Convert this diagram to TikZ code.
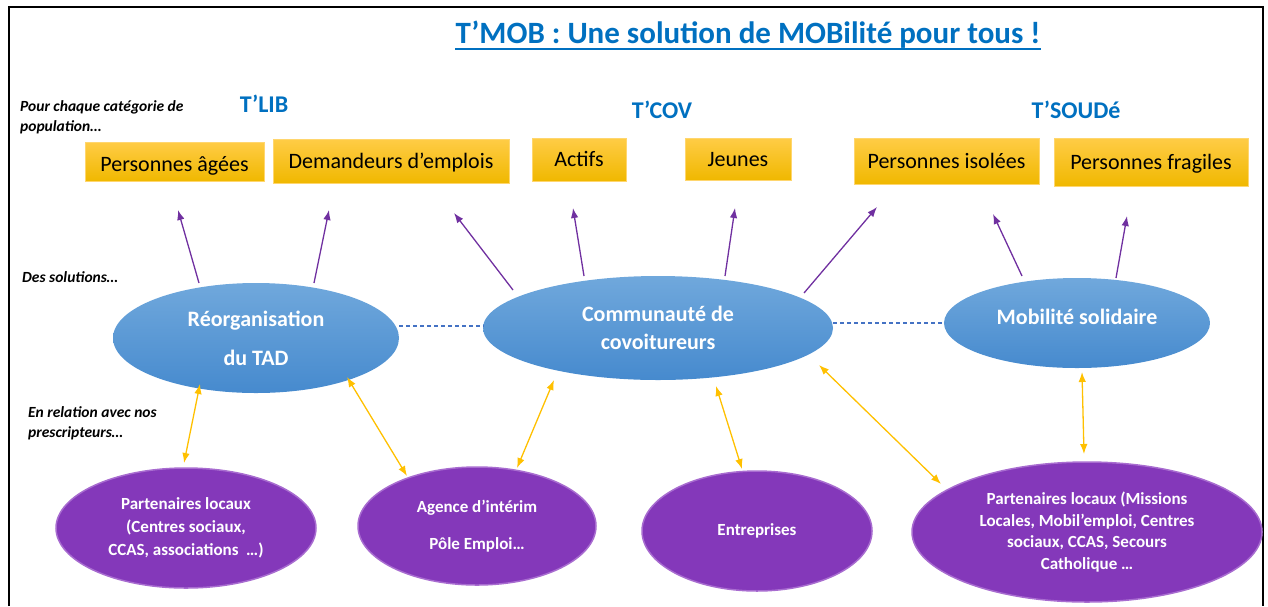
\documentclass[tikz,border=0pt]{standalone}
\usepackage{fontspec}
\setmainfont{Carlito}
\usetikzlibrary{shapes.geometric,arrows.meta}
\definecolor{tblue}{RGB}{0,112,192}
\definecolor{ytop}{RGB}{255,204,70}
\definecolor{ybot}{RGB}{240,184,0}
\definecolor{yedge}{RGB}{255,214,110}
\definecolor{btop}{RGB}{112,168,220}
\definecolor{bbot}{RGB}{70,138,206}
\definecolor{pfill}{RGB}{132,56,186}
\definecolor{pedge}{RGB}{168,108,208}
\definecolor{parrow}{RGB}{112,48,160}
\definecolor{yarrow}{RGB}{255,192,0}
\definecolor{dashblue}{RGB}{68,114,196}
\begin{document}
\begin{tikzpicture}[x=1pt,y=-1pt,
  ybox/.style={rectangle, draw=yedge, line width=0.8pt, top color=ytop, bottom color=ybot,
    inner sep=0pt, font=\fontsize{22}{26}\selectfont, text height=14pt, text depth=0pt},
  sol/.style={ellipse, inner sep=0pt, top color=btop, bottom color=bbot, draw=none,
    text=white, align=center},
  pres/.style={ellipse, inner sep=0pt, fill=pfill, draw=pedge, line width=1.5pt,
    text=white, align=center},
  parr/.style={draw=parrow, line width=1.3pt, -{Latex[length=10pt,width=7.5pt]}},
  yarr/.style={draw=yarrow, line width=1.3pt, {Latex[length=10pt,width=7.5pt]}-{Latex[length=10pt,width=7.5pt]}},
  lab/.style={anchor=base west, inner sep=0pt, font=\bfseries\itshape\fontsize{15.5}{20}\selectfont},
  cat/.style={anchor=base, inner sep=0pt, text=tblue, font=\bfseries\fontsize{24}{28}\selectfont},
  dashlink/.style={draw=dashblue, line width=1.2pt, dash pattern=on 4pt off 3pt},
]
\useasboundingbox (0,0) rectangle (1268,606);
\draw[line width=1.3pt] (9,606) -- (9,7) -- (1263,7) -- (1263,606);

% title
\node[anchor=base, inner sep=0pt, text=tblue, font=\bfseries\fontsize{31}{36}\selectfont] (title) at (748,43)
  {T’MOB : Une solution de MOBilité pour tous !};
\draw[tblue, line width=1.3pt] ([yshift=-6pt]title.base west) -- ([yshift=-6pt]title.base east);

% left labels
\node[lab] (l1) at (20,111) {Pour chaque catégorie de};
\node[lab] (l2) at (20,131) {population…};
\node[lab] (l3) at (22,282) {Des solutions…};
\node[lab] (l4) at (28,417) {En relation avec nos};
\node[lab] (l5) at (28,437) {prescripteurs…};

% categories
\node[cat] (tlib) at (264,112) {T’LIB};
\node[cat] (tcov) at (662,118) {T’COV};
\node[cat] (tsoud) at (1076,118) {T’SOUDé};

% population boxes
\node[ybox, minimum width=179pt, minimum height=39pt, text height=20pt] (b1) at (174.5,161.5) {Personnes âgées};
\node[ybox, minimum width=236pt, minimum height=44pt] (b2) at (391,161) {Demandeurs d’emplois};
\node[ybox, minimum width=94pt, minimum height=43pt] (b3) at (579,159.5) {Actifs};
\node[ybox, minimum width=106pt, minimum height=42pt] (b4) at (738,159) {Jeunes};
\node[ybox, minimum width=185pt, minimum height=46pt] (b5) at (946.5,161) {Personnes isolées};
\node[ybox, minimum width=194pt, minimum height=48pt] (b6) at (1151,162) {Personnes fragiles};

% solutions
\node[sol, minimum width=286pt, minimum height=110pt, font=\bfseries\fontsize{22}{39}\selectfont] (tad) at (256,338) {Réorganisation\\du TAD};
\node[sol, minimum width=350pt, minimum height=104pt, font=\bfseries\fontsize{22}{28}\selectfont] (cov) at (658,328) {Communauté de\\covoitureurs};
\node[sol, minimum width=266pt, minimum height=90pt, font=\bfseries\fontsize{22}{28}\selectfont, text height=16pt, text depth=14pt] (mob) at (1077,323) {Mobilité solidaire};

% prescripteurs
\node[pres, minimum width=260pt, minimum height=120pt, font=\bfseries\fontsize{17}{23}\selectfont] (pl) at (186,528)
  {Partenaires locaux\\(Centres sociaux,\\CCAS, associations\ \ …)};
\node[pres, minimum width=238pt, minimum height=118pt, font=\bfseries\fontsize{17}{37}\selectfont] (ag) at (477,526)
  {Agence d’intérim\\Pôle Emploi…};
\node[pres, minimum width=230pt, minimum height=120pt, font=\bfseries\fontsize{17}{23}\selectfont] (ent) at (757,531)
  {Entreprises};
\node[pres, minimum width=350pt, minimum height=140pt, font=\bfseries\fontsize{17}{21.7}\selectfont] (pl2) at (1087,532)
  {Partenaires locaux (Missions\\Locales, Mobil’emploi, Centres\\sociaux, CCAS, Secours\\Catholique …};

% dashed links
\coordinate (d1a) at (399,326); \coordinate (d1b) at (484,326);
\coordinate (d2a) at (833,323); \coordinate (d2b) at (945,323);
\draw[dashlink] (d1a) -- (d1b);
\draw[dashlink] (d2a) -- (d2b);

% purple arrows
\coordinate (p1s) at (199,283); \coordinate (p1e) at (178,210);
\coordinate (p2s) at (314,283); \coordinate (p2e) at (329,210);
\coordinate (p3s) at (513,290); \coordinate (p3e) at (454,213);
\coordinate (p4s) at (584,276); \coordinate (p4e) at (573,208);
\coordinate (p5s) at (725,276); \coordinate (p5e) at (735,208);
\coordinate (p6s) at (804,293); \coordinate (p6e) at (877,207);
\coordinate (p7s) at (1022,276); \coordinate (p7e) at (993,214);
\coordinate (p8s) at (1116,278); \coordinate (p8e) at (1127,216);
\foreach \i in {1,...,8} {\draw[parr] (p\i s) -- (p\i e);}

% yellow arrows
\coordinate (y1s) at (200,384); \coordinate (y1e) at (184,463);
\coordinate (y2s) at (347,377); \coordinate (y2e) at (407,476);
\coordinate (y3s) at (554,380); \coordinate (y3e) at (517,468);
\coordinate (y4s) at (716,386); \coordinate (y4e) at (742,469);
\coordinate (y5s) at (819,365); \coordinate (y5e) at (941,484);
\coordinate (y6s) at (1082,372); \coordinate (y6e) at (1084,454);
\foreach \i in {1,...,6} {\draw[yarr] (y\i s) -- (y\i e);}
\end{tikzpicture}
\end{document}
